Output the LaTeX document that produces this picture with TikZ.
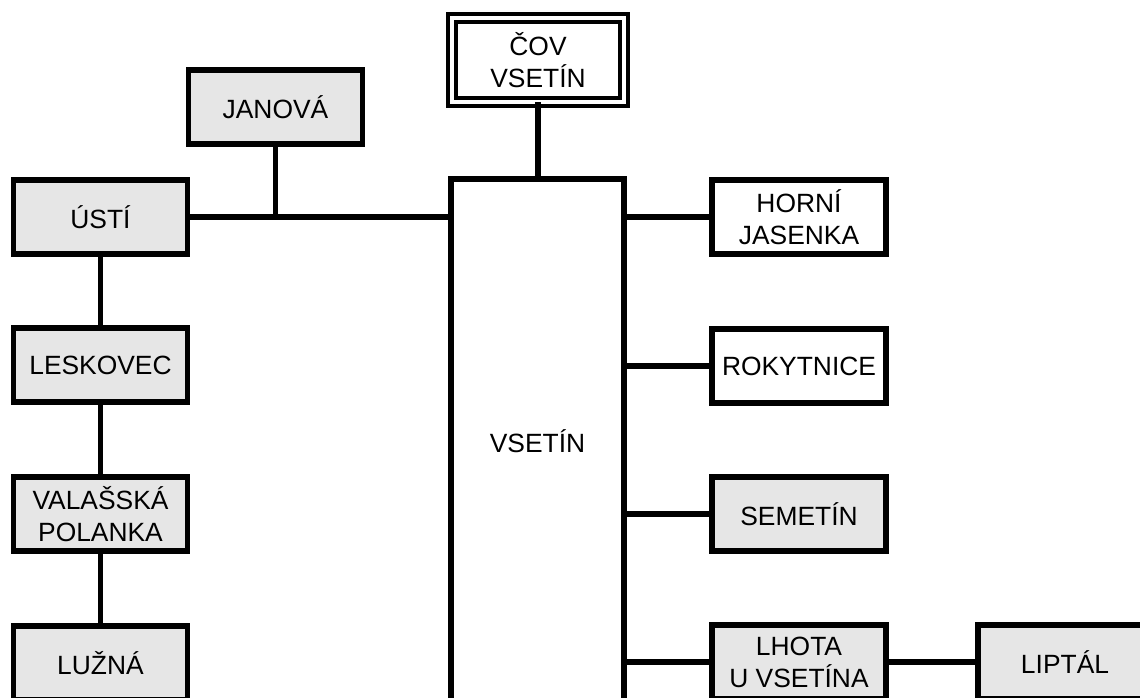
\documentclass[tikz,border=0pt]{standalone}
\usepackage{fontspec}
\setmainfont{Liberation Sans}
\usetikzlibrary{positioning}
\definecolor{boxgrey}{RGB}{230,230,230}

\begin{document}
\begin{tikzpicture}[x=0.5pt,y=-0.5pt,line width=2.9pt,font=\fontsize{13.2}{16}\selectfont]
  \tikzstyle{station}=[draw=black,fill=white,align=center,inner sep=0pt,outer sep=0pt,minimum width=87pt,minimum height=37pt]
  \tikzstyle{grey station}=[station,fill=boxgrey]

  \useasboundingbox (0,0) rectangle (1140,697);
  \clip (0,0) rectangle (1140,697);

  \node[station,double,double distance=2pt,line width=2pt,minimum width=86pt,minimum height=42pt] (cov) at (538,60) {ČOV\\VSETÍN};
  \node[station,minimum width=86.5pt,minimum height=262pt] (vsetin) at (537.5,441) {VSETÍN};

  \node[grey station] (janova) at (275.5,107) {JANOVÁ};
  \node[grey station] (usti) at (100.5,217) {ÚSTÍ};
  \node[grey station] (leskovec) at (100.5,365) {LESKOVEC};
  \node[grey station] (valasska) at (100.5,514) {VALAŠSKÁ\\POLANKA};
  \node[grey station] (luzna) at (100.5,663) {LUŽNÁ};

  \node[station] (horni) at (799,217) {HORNÍ\\JASENKA};
  \node[station] (rokytnice) at (799,366) {ROKYTNICE};
  \node[grey station] (semetin) at (799,514) {SEMETÍN};
  \node[grey station] (lhota) at (799,662) {LHOTA\\U VSETÍNA};
  \node[grey station] (liptal) [right=46pt of lhota] {LIPTÁL};

  \draw (cov.south) -- (cov.south |- vsetin.north);
  \draw (usti.east) -- (usti.east -| vsetin.west);
  \draw (janova.south) -- (janova.south |- usti.east);
  \draw (usti) -- (leskovec);
  \draw (leskovec) -- (valasska);
  \draw (valasska) -- (luzna);
  \foreach \n in {horni,rokytnice,semetin,lhota}
    \draw (\n.west -| vsetin.east) -- (\n.west);
  \draw (lhota) -- (liptal);

\end{tikzpicture}
\end{document}
